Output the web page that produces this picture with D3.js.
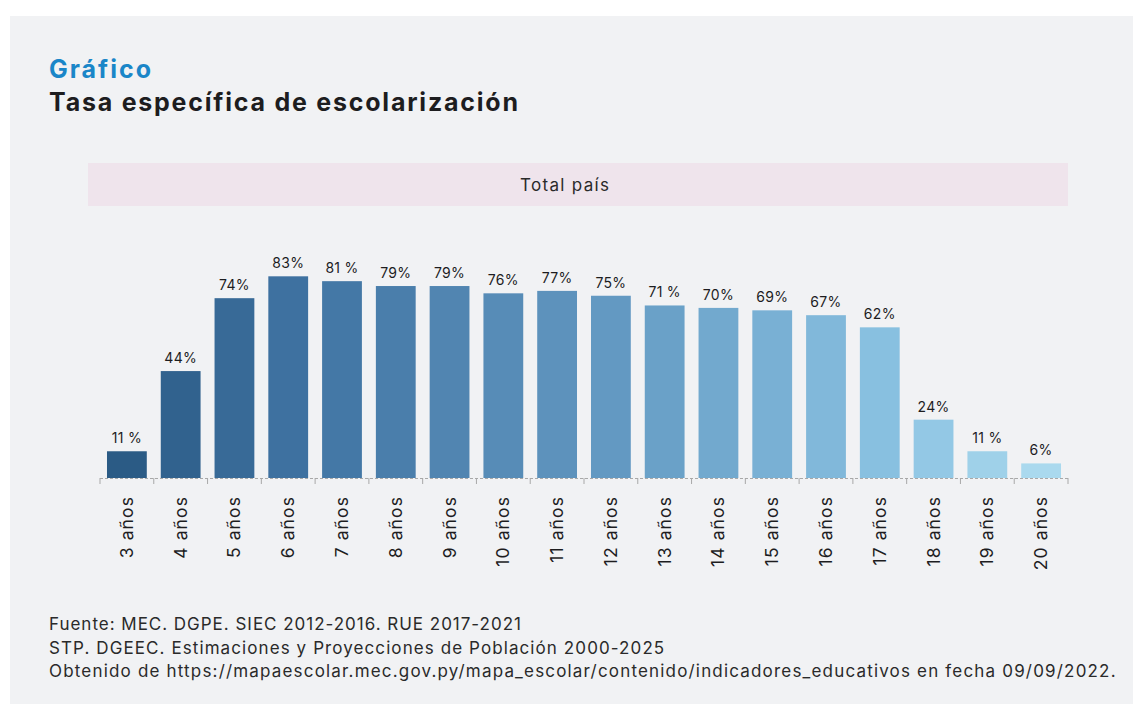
<!DOCTYPE html>
<html lang="es">
<head>
<meta charset="utf-8">
<script src="https://cdn.jsdelivr.net/npm/d3@7/dist/d3.min.js"></script>
<style>
  html, body { margin: 0; padding: 0; background: #ffffff; }
  svg { display: block; }
</style>
</head>
<body>
<svg id="chart" width="1133" height="704"></svg>
<script>
// Tasa específica de escolarización por edad — Total país
const categories = ["3 años", "4 años", "5 años", "6 años", "7 años", "8 años", "9 años",
  "10 años", "11 años", "12 años", "13 años", "14 años", "15 años", "16 años",
  "17 años", "18 años", "19 años", "20 años"];
const values = [11, 44, 74, 83, 81, 79, 79, 76, 77, 75, 71, 70, 69, 67, 62, 24, 11, 6];
const valueLabels = ["11 %", "44%", "74%", "83%", "81 %", "79%", "79%", "76%", "77%",
  "75%", "71 %", "70%", "69%", "67%", "62%", "24%", "11 %", "6%"];
const sourceLines = [
  "Fuente: MEC. DGPE. SIEC 2012-2016. RUE 2017-2021",
  "STP. DGEEC. Estimaciones y Proyecciones de Población 2000-2025",
  "Obtenido de https://mapaescolar.mec.gov.py/mapa_escolar/contenido/indicadores_educativos en fecha 09/09/2022."
];

const svg = d3.select("#chart");
const font = "Inter, 'Noto Sans', sans-serif";

// Stretch a text element to a given width by spreading its letters
function fitWidth(sel, width) {
  sel.each(function () {
    const n = this.textContent.length;
    const len = this.getComputedTextLength();
    const ls = (width - len) / Math.max(1, n - 1);
    d3.select(this).attr("letter-spacing", ls.toFixed(2));
  });
  return sel;
}

// Panel background
svg.append("rect").attr("x", 10).attr("y", 16).attr("width", 1123).attr("height", 688)
  .attr("fill", "#f1f2f4");

// Titles
svg.append("text").attr("x", 49).attr("y", 78)
  .attr("font-family", font).attr("font-weight", 700).attr("font-size", 25)
  .attr("fill", "#1a86c8").text("Gráfico").call(fitWidth, 102);
svg.append("text").attr("x", 49).attr("y", 111)
  .attr("font-family", font).attr("font-weight", 700).attr("font-size", 25)
  .attr("fill", "#1d1d1f").text("Tasa específica de escolarización").call(fitWidth, 469);

// Facet strip
svg.append("rect").attr("x", 88).attr("y", 163).attr("width", 980).attr("height", 43)
  .attr("fill", "#efe4ec");
svg.append("text").attr("x", 520).attr("y", 191)
  .attr("font-family", font).attr("font-size", 17).attr("fill", "#2a2a2a")
  .text("Total país").call(fitWidth, 89);

// Scales
const x = d3.scaleBand().domain(categories).range([100, 1068])
  .paddingInner(0.26).paddingOuter(0.13);
const y = d3.scaleLinear().domain([0, 100]).range([478, 235]);
const color = d3.scaleLinear()
  .domain([0, 3, 9, 14, 17])
  .range(["#2b5b85", "#3e71a0", "#6399c2", "#88c0e0", "#aad9ee"])
  .interpolate(d3.interpolateRgb);

// Bars
svg.append("g").selectAll("rect").data(categories).join("rect")
  .attr("x", d => x(d))
  .attr("y", (d, i) => y(values[i]))
  .attr("width", x.bandwidth())
  .attr("height", (d, i) => y(0) - y(values[i]))
  .attr("fill", (d, i) => color(i));

// Value labels
svg.append("g").selectAll("text").data(categories).join("text")
  .attr("x", d => x(d) + x.bandwidth() / 2)
  .attr("y", (d, i) => y(values[i]) - 8)
  .attr("text-anchor", "middle")
  .attr("font-family", font).attr("font-size", 14).attr("letter-spacing", 0.3)
  .attr("fill", "#1d1d1f")
  .text((d, i) => valueLabels[i]);

// Axis: dashed baseline with ticks at band edges
const axisG = svg.append("g");
axisG.append("line").attr("x1", 100).attr("x2", 1068).attr("y1", y(0) + 0.5).attr("y2", y(0) + 0.5)
  .attr("stroke", "#a8a8a8").attr("stroke-width", 1).attr("stroke-dasharray", "3,2");
const edges = categories.map(d => x(d) - x.step() * x.paddingInner() / 2);
edges[0] = 100;
edges.push(1068);
axisG.selectAll("line.tick").data(edges).join("line").attr("class", "tick")
  .attr("x1", d => d).attr("x2", d => d)
  .attr("y1", y(0)).attr("y2", y(0) + 6)
  .attr("stroke", "#a8a8a8").attr("stroke-width", 1);

// Category labels (rotated)
svg.append("g").selectAll("text").data(categories).join("text")
  .attr("transform", d => `translate(${x(d) + x.bandwidth() / 2 + 6},496) rotate(-90)`)
  .attr("text-anchor", "end")
  .attr("font-family", font).attr("font-size", 17.5).attr("letter-spacing", 1.1)
  .attr("fill", "#1d1d1f")
  .text(d => d);

// Source notes
const notes = svg.append("g").selectAll("text").data(sourceLines).join("text")
  .attr("x", 49).attr("y", (d, i) => 630 + i * 23.5)
  .attr("font-family", font).attr("font-size", 17).attr("fill", "#2a2a2a")
  .text(d => d);
fitWidth(d3.select(notes.nodes()[0]), 472);
fitWidth(d3.select(notes.nodes()[1]), 615);
fitWidth(d3.select(notes.nodes()[2]), 1067);
</script>
</body>
</html>
